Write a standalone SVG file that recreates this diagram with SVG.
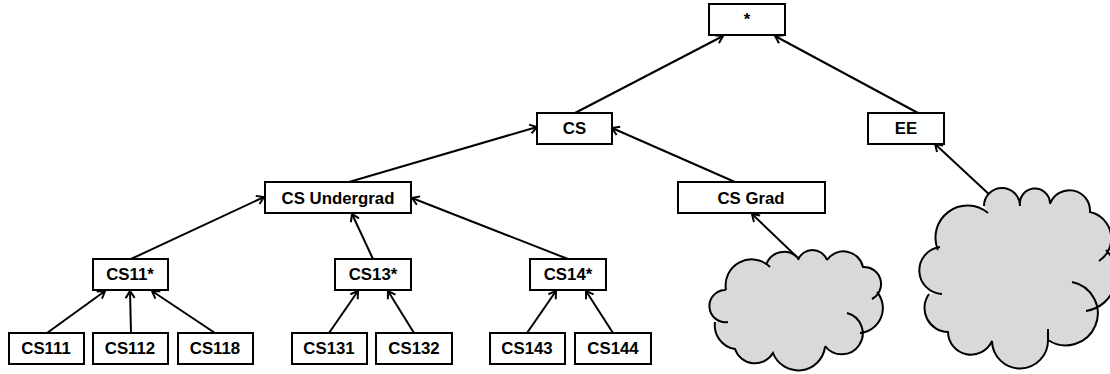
<svg xmlns="http://www.w3.org/2000/svg" width="1110" height="374" viewBox="0 0 1110 374">
<style>
.box{fill:#fff;stroke:#000;stroke-width:2}
.lbl{font-family:"Liberation Sans",Arial,sans-serif;font-weight:bold;font-size:16.800px;text-anchor:middle;fill:#000}
.edge{fill:none;stroke:#000;stroke-width:2;marker-end:url(#arr)}
.cf{fill:#d9d9d9;stroke:none}
.cs{fill:none;stroke:#000;stroke-width:2}
</style>
<defs>
<marker id="arr" markerUnits="userSpaceOnUse" markerWidth="14" markerHeight="14" refX="11" refY="7" orient="auto" viewBox="0 0 14 14">
<path d="M4 2.500 L11 7 L4 11.500" fill="none" stroke="#000" stroke-width="2"/>
</marker>
</defs>
<rect width="1110" height="374" fill="#fff"/>
<g id="connectors">
<line class="edge" x1="575" y1="113" x2="723" y2="36"/>
<line class="edge" x1="918" y1="113" x2="775" y2="36"/>
<line class="edge" x1="349" y1="182" x2="537" y2="127"/>
<line class="edge" x1="735" y1="182" x2="612" y2="128"/>
<line class="edge" x1="131" y1="259" x2="264" y2="197"/>
<line class="edge" x1="373" y1="259" x2="352" y2="214"/>
<line class="edge" x1="568" y1="259" x2="412" y2="198"/>
<line class="edge" x1="47" y1="333" x2="105" y2="291"/>
<line class="edge" x1="131" y1="333" x2="130" y2="291"/>
<line class="edge" x1="215" y1="333" x2="152" y2="291"/>
<line class="edge" x1="329" y1="333" x2="358" y2="291"/>
<line class="edge" x1="414" y1="333" x2="388" y2="291"/>
<line class="edge" x1="527" y1="333" x2="556" y2="291"/>
<line class="edge" x1="613" y1="333" x2="586" y2="291"/>
<line class="edge" x1="798" y1="258" x2="752" y2="214"/>
<line class="edge" x1="992" y1="197" x2="935" y2="144"/>
</g>
<g id="n-root"><rect class="box" x="709" y="4" width="76" height="31"/><text class="lbl" x="747" y="25">*</text></g>
<g id="n-cs"><rect class="box" x="537" y="113" width="75" height="31"/><text class="lbl" x="574.500" y="134">CS</text></g>
<g id="n-ee"><rect class="box" x="868" y="113" width="76" height="31"/><text class="lbl" x="906" y="134">EE</text></g>
<g id="n-ug"><rect class="box" x="265" y="182" width="146" height="31"/><text class="lbl" x="338" y="203.500">CS Undergrad</text></g>
<g id="n-grad"><rect class="box" x="678" y="182" width="147" height="31"/><text class="lbl" x="751" y="203.500">CS Grad</text></g>
<g id="n-cs11"><rect class="box" x="93" y="259" width="75" height="31"/><text class="lbl" x="130" y="280">CS11*</text></g>
<g id="n-cs13"><rect class="box" x="335" y="259" width="76" height="31"/><text class="lbl" x="373" y="280">CS13*</text></g>
<g id="n-cs14"><rect class="box" x="530" y="259" width="76" height="31"/><text class="lbl" x="568" y="280">CS14*</text></g>
<g id="n-cs111"><rect class="box" x="9" y="333" width="75" height="31"/><text class="lbl" x="46" y="354">CS111</text></g>
<g id="n-cs112"><rect class="box" x="93" y="333" width="75" height="31"/><text class="lbl" x="130" y="354">CS112</text></g>
<g id="n-cs118"><rect class="box" x="178" y="333" width="75" height="31"/><text class="lbl" x="215" y="354">CS118</text></g>
<g id="n-cs131"><rect class="box" x="292" y="333" width="75" height="31"/><text class="lbl" x="329" y="354">CS131</text></g>
<g id="n-cs132"><rect class="box" x="376" y="333" width="76" height="31"/><text class="lbl" x="414" y="354">CS132</text></g>
<g id="n-cs143"><rect class="box" x="490" y="333" width="75" height="31"/><text class="lbl" x="527" y="354">CS143</text></g>
<g id="n-cs144"><rect class="box" x="575" y="333" width="76" height="31"/><text class="lbl" x="613" y="354">CS144</text></g>
<g id="cloud-small">
<path class="cf" d="M726 290A26 26 0 0 1 770 267L766 265A19 19 0 0 1 798 258L798 260A15.500 15.500 0 0 1 827 260A20 20 0 0 1 863 267A17 17 0 0 1 872 299L877 292A25 25 0 0 1 860 333L847 313A21 21 0 1 1 825 346L825 347A27 27 0 0 1 773 353A21 21 0 0 1 735 349A24 24 0 0 1 715 322L728 322A16.100 16.100 0 1 1 726 290Z"/>
<path class="cs" d="M726 290A16.100 16.100 0 1 0 728 322M726 290A26 26 0 0 1 770 267M766 265A19 19 0 0 1 798 258M798 260A15.500 15.500 0 0 1 827 260M827 260A20 20 0 0 1 863 267A17 17 0 0 1 872 299M877 292A25 25 0 0 1 860 333M847 313A21 21 0 1 1 825 346M825 347A27 27 0 0 1 773 353A21 21 0 0 1 735 349A24 24 0 0 1 715 322"/>
</g>
<g id="cloud-large">
<path class="cf" d="M938 250A32 32 0 0 1 988 213L984 206A18 18 0 0 1 1020 206A15.100 15.100 0 1 1 1050 203L1050 204A20.600 20.600 0 0 1 1090 212A27 27 0 0 1 1099 261L1106 250A36 36 0 0 1 1086 311L1072 282A32 32 0 1 1 1048 340A28 28 0 0 1 992 341A23 23 0 0 1 948 332A24 24 0 0 1 929 294L942 294A23.600 23.600 0 0 1 940 247Z"/>
<path class="cs" d="M940 247A23.600 23.600 0 0 0 942 294M938 250A32 32 0 0 1 988 213M984 206A18 18 0 0 1 1020 206M1020 206A15.100 15.100 0 1 1 1050 203M1050 204A20.600 20.600 0 0 1 1090 212A27 27 0 0 1 1099 261M1106 250A36 36 0 0 1 1086 311M1072 282A32 32 0 1 1 1048 340V329M1048 340A28 28 0 0 1 992 341A23 23 0 0 1 948 332A24 24 0 0 1 929 294"/>
</g>
</svg>
